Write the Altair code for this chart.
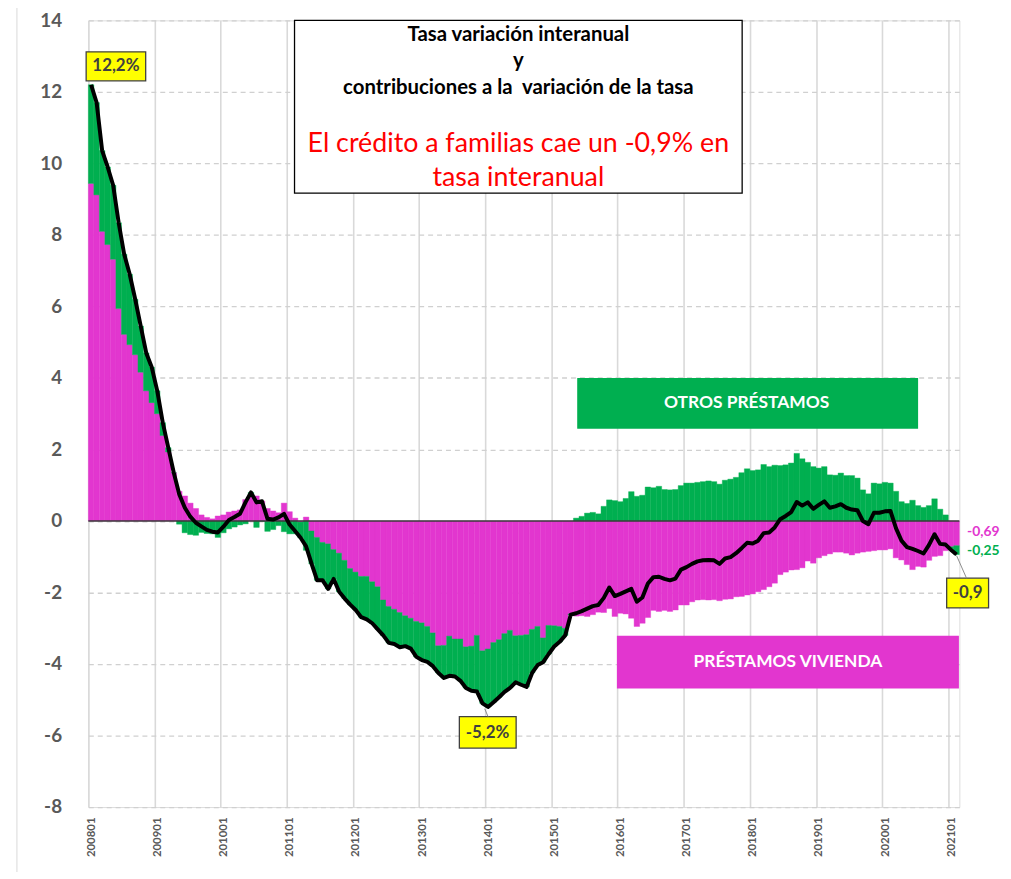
import altair as alt
import pandas as pd

# ---- data (monthly, 2008-01 .. 2021-02) ----
vivienda = [9.44, 9.12, 8.10, 7.73, 7.32, 5.94, 5.22, 4.93, 4.65, 4.16, 3.64, 3.31,
            3.00, 2.39, 1.93, 1.35, 0.83, 0.70, 0.50, 0.35, 0.17, 0.10, 0.06, 0.14,
            0.17, 0.25, 0.28, 0.31, 0.60, 0.72, 0.70, 0.56, 0.35, 0.28, 0.23, 0.50,
            0.26, 0.08, -0.03, 0.11, -0.28, -0.46, -0.60, -0.64, -0.80, -0.90, -1.10, -1.33,
            -1.43, -1.55, -1.55, -1.70, -1.84, -2.21, -2.39, -2.47, -2.56, -2.65, -2.72, -2.81,
            -2.85, -2.95, -3.13, -3.49, -3.48, -3.22, -3.30, -3.30, -3.52, -3.50, -3.20, -3.63,
            -3.58, -3.40, -3.32, -3.15, -3.06, -3.21, -3.20, -3.18, -3.03, -2.95, -3.27, -2.92,
            -2.93, -2.95, -3.00, -2.60, -2.66, -2.65, -2.67, -2.62, -2.55, -2.56, -2.45, -2.67,
            -2.58, -2.60, -2.72, -2.95, -2.86, -2.70, -2.50, -2.53, -2.50, -2.53, -2.49, -2.35,
            -2.35, -2.26, -2.21, -2.20, -2.21, -2.20, -2.23, -2.19, -2.18, -2.12, -2.11, -2.07,
            -2.04, -1.98, -1.92, -1.84, -1.74, -1.50, -1.43, -1.37, -1.36, -1.31, -1.12, -1.18,
            -1.03, -0.97, -0.92, -0.87, -0.87, -0.90, -0.95, -0.90, -0.87, -0.85, -0.83, -0.81,
            -0.81, -0.78, -1.03, -1.09, -1.22, -1.36, -1.27, -1.29, -1.10, -0.99, -0.97, -0.83,
            -0.72, -0.69]

otros = [2.76, 2.58, 2.26, 2.17, 2.07, 2.40, 2.24, 1.97, 1.55, 1.29, 1.06, 0.99,
         0.64, 0.36, 0.12, 0.00, -0.09, -0.33, -0.38, -0.40, -0.32, -0.35, -0.36, -0.46,
         -0.33, -0.22, -0.17, -0.11, -0.08, 0.08, -0.18, -0.01, -0.29, -0.24, -0.13, -0.30,
         -0.36, -0.36, -0.44, -0.82, -0.92, -1.20, -1.06, -1.26, -0.82, -1.08, -1.07, -1.01,
         -1.06, -1.14, -1.20, -1.16, -1.19, -0.99, -1.02, -0.97, -0.97, -0.85, -0.85, -0.99,
         -1.04, -0.99, -0.93, -0.76, -0.91, -1.11, -1.05, -1.17, -1.15, -1.25, -1.57, -1.47,
         -1.62, -1.67, -1.61, -1.63, -1.61, -1.30, -1.38, -1.46, -1.22, -1.08, -0.68, -0.80,
         -0.58, -0.43, -0.20, -0.02, 0.08, 0.13, 0.22, 0.24, 0.20, 0.41, 0.59, 0.57,
         0.54, 0.63, 0.82, 0.69, 0.72, 0.95, 0.93, 0.97, 0.88, 0.87, 0.88, 0.99,
         1.06, 1.06, 1.08, 1.10, 1.12, 1.10, 1.03, 1.14, 1.17, 1.22, 1.35, 1.46,
         1.41, 1.43, 1.58, 1.52, 1.56, 1.55, 1.57, 1.62, 1.89, 1.74, 1.64, 1.52,
         1.48, 1.52, 1.29, 1.28, 1.34, 1.27, 1.27, 1.20, 0.87, 0.76, 1.06, 1.04,
         1.08, 1.06, 0.83, 0.54, 0.49, 0.58, 0.43, 0.38, 0.43, 0.62, 0.33, 0.17,
         -0.09, -0.25]

total = [12.20, 11.70, 10.36, 9.90, 9.39, 8.34, 7.46, 6.90, 6.20, 5.45, 4.70, 4.30,
         3.64, 2.75, 2.05, 1.35, 0.74, 0.37, 0.12, -0.05, -0.15, -0.25, -0.30, -0.32,
         -0.16, 0.03, 0.11, 0.20, 0.52, 0.80, 0.52, 0.55, 0.06, 0.04, 0.10, 0.20,
         -0.10, -0.28, -0.47, -0.71, -1.20, -1.66, -1.66, -1.90, -1.62, -1.98, -2.17, -2.34,
         -2.49, -2.69, -2.75, -2.86, -3.03, -3.20, -3.41, -3.44, -3.53, -3.50, -3.57, -3.80,
         -3.89, -3.94, -4.06, -4.25, -4.39, -4.33, -4.35, -4.47, -4.67, -4.75, -4.77, -5.10,
         -5.20, -5.07, -4.93, -4.78, -4.67, -4.51, -4.58, -4.64, -4.25, -4.03, -3.95, -3.72,
         -3.51, -3.38, -3.20, -2.62, -2.58, -2.52, -2.45, -2.38, -2.35, -2.15, -1.86, -2.10,
         -2.04, -1.97, -1.90, -2.26, -2.14, -1.75, -1.57, -1.56, -1.62, -1.66, -1.61, -1.36,
         -1.29, -1.20, -1.13, -1.10, -1.09, -1.10, -1.20, -1.05, -1.01, -0.90, -0.76, -0.61,
         -0.63, -0.55, -0.34, -0.32, -0.18, 0.05, 0.14, 0.25, 0.53, 0.43, 0.52, 0.34,
         0.45, 0.55, 0.37, 0.41, 0.47, 0.37, 0.32, 0.30, 0.00, -0.09, 0.23, 0.23,
         0.27, 0.28, -0.20, -0.55, -0.73, -0.78, -0.84, -0.91, -0.67, -0.37, -0.64, -0.66,
         -0.81, -0.94]

tick_labels = ["200801", "200901", "201001", "201101", "201201", "201301", "201401",
               "201501", "201601", "201701", "201801", "201901", "202001", "202101"]
y_ticks = [-8, -6, -4, -2, 0, 2, 4, 6, 8, 10, 12, 14]

series_names = ["PRÉSTAMOS VIVIENDA", "OTROS PRÉSTAMOS"]
series_colors = ["#E236CF", "#00AF50"]

FONT = "Lato"
n = len(total)

# ---- tables built from the arrays ----
bar_rows = []
for i in range(n):
    v, o = vivienda[i], otros[i]
    bar_rows.append({"m": i, "m2": i + 1, "lo": 0.0, "hi": v, "serie": series_names[0]})
    base = v if (o >= 0) == (v >= 0) else 0.0
    bar_rows.append({"m": i, "m2": i + 1, "lo": base, "hi": base + o, "serie": series_names[1]})
bars_df = pd.DataFrame(bar_rows)
line_df = pd.DataFrame({"m": [i + 0.5 for i in range(n)], "total": total})

xs = alt.Scale(domain=[0, n], nice=False, zero=False)
ys = alt.Scale(domain=[-8, 14], nice=False, zero=False)
label_js = "[" + ",".join("'" + t + "'" for t in tick_labels) + "][round(datum.value/12)]"

bars = alt.Chart(bars_df).mark_rect(strokeWidth=0.4).encode(
    x=alt.X("m:Q", scale=xs, axis=alt.Axis(
        values=[12 * k for k in range(len(tick_labels))], labelExpr=label_js,
        labelAngle=270, labelFontSize=11.5, labelFont=FONT, labelFontWeight="bold",
        labelColor="#595959", labelPadding=10, labelOffset=3, ticks=False, domain=False,
        grid=True, gridColor="#d9d9d9", gridWidth=1.6, title=None)),
    x2="m2:Q",
    y=alt.Y("lo:Q", scale=ys, axis=alt.Axis(
        values=y_ticks, labelExpr="toString(datum.value)", labelFontSize=19,
        labelFont=FONT, labelFontWeight="bold", labelColor="#595959", labelPadding=27,
        ticks=False, tickSize=0, domain=False, grid=True, gridColor="#d0d0d0",
        gridDash=[5, 4], gridWidth=1.3, title=None)),
    y2="hi:Q",
    color=alt.Color("serie:N", scale=alt.Scale(domain=series_names, range=series_colors), legend=None),
    stroke=alt.Stroke("serie:N", scale=alt.Scale(domain=series_names, range=series_colors), legend=None),
)

zero_rule = alt.Chart(pd.DataFrame({"a": [0], "b": [n], "y": [0]})).mark_rule(
    color="#3a3a3a", strokeWidth=1.6).encode(
    x=alt.X("a:Q", scale=xs), x2="b:Q", y=alt.Y("y:Q", scale=ys))

line = alt.Chart(line_df).mark_line(color="black", strokeWidth=4, strokeJoin="round").encode(
    x=alt.X("m:Q", scale=xs), y=alt.Y("total:Q", scale=ys))

# ---- annotations (data coordinates) ----
boxes = pd.DataFrame([
    {"x": 37.4, "x2": 118.6, "y": 14.0, "y2": 9.17, "fill": "white", "stroke": "black"},
    {"x": 88.8, "x2": 150.4, "y": 3.98, "y2": 2.60, "fill": series_colors[1], "stroke": series_colors[1]},
    {"x": 96.0, "x2": 157.8, "y": -3.23, "y2": -4.67, "fill": series_colors[0], "stroke": series_colors[0]},
    {"x": -0.4, "x2": 10.4, "y": 13.12, "y2": 12.31, "fill": "#FFFF00", "stroke": "#404040"},
    {"x": 67.3, "x2": 77.6, "y": -5.47, "y2": -6.35, "fill": "#FFFF00", "stroke": "#404040"},
    {"x": 155.7, "x2": 163.3, "y": -1.60, "y2": -2.43, "fill": "#FFFF00", "stroke": "#404040"},
])
box_layer = alt.Chart(boxes).mark_rect(strokeWidth=1.3).encode(
    x=alt.X("x:Q", scale=xs), x2="x2:Q", y=alt.Y("y:Q", scale=ys), y2="y2:Q",
    fill=alt.Fill("fill:N", scale=None), stroke=alt.Stroke("stroke:N", scale=None))

leaders = pd.DataFrame([
    {"x": 71.9, "y": -5.25, "x2": 72.5, "y2": -5.47},
    {"x": 157.5, "y": -0.97, "x2": 159.3, "y2": -1.60},
])
leader_layer = alt.Chart(leaders).mark_rule(color="#8c8c8c", strokeWidth=1).encode(
    x=alt.X("x:Q", scale=xs), x2="x2:Q", y=alt.Y("y:Q", scale=ys), y2="y2:Q")

def text_layer(rows, size, color, weight, align="center"):
    return alt.Chart(pd.DataFrame(rows)).mark_text(
        font=FONT, fontSize=size, color=color, fontWeight=weight, align=align,
        baseline="middle").encode(
        x=alt.X("x:Q", scale=xs), y=alt.Y("y:Q", scale=ys), text="t:N")

title_bold = text_layer([
    {"x": 78.0, "y": 13.59, "t": "Tasa variación interanual"},
    {"x": 78.0, "y": 12.85, "t": "y"},
    {"x": 78.0, "y": 12.10, "t": "contribuciones a la\u00a0 variación de la tasa"},
], 20.5, "black", "bold")
title_red = text_layer([
    {"x": 78.0, "y": 10.55, "t": "El crédito a familias cae un -0,9% en"},
    {"x": 78.0, "y": 9.59, "t": "tasa interanual"},
], 27, "#FF0000", "normal")
box_labels = text_layer([
    {"x": 119.4, "y": 3.29, "t": "OTROS PRÉSTAMOS"},
    {"x": 126.9, "y": -3.95, "t": "PRÉSTAMOS VIVIENDA"},
], 17.5, "white", "bold")
callouts = text_layer([
    {"x": 5.0, "y": 12.71, "t": "12,2%"},
    {"x": 72.4, "y": -5.93, "t": "-5,2%"},
    {"x": 159.5, "y": -2.02, "t": "-0,9"},
], 17, "#404040", "bold")
side_viv = text_layer([{"x": 159.4, "y": -0.30, "t": "-0,69"}], 14, series_colors[0], "bold", "left")
side_otr = text_layer([{"x": 159.4, "y": -0.85, "t": "-0,25"}], 14, series_colors[1], "bold", "left")

border = alt.Chart(pd.DataFrame({"k": [0]})).mark_rule(color="#d9d9d9", strokeWidth=1).encode(
    x=alt.value(-72), y=alt.value(-17), y2=alt.value(863))

chart = alt.layer(
    bars, zero_rule, line, box_layer, leader_layer,
    title_bold, title_red, box_labels, callouts, side_viv, side_otr, border,
).properties(
    width=878, height=793,
    autosize=alt.AutoSizeParams(type="none"),
    padding={"left": 81, "top": 9, "right": 44, "bottom": 62},
).configure_view(stroke=None).configure(background="white")

chart.save("out.html", embed_options={"renderer": "svg", "actions": False})
